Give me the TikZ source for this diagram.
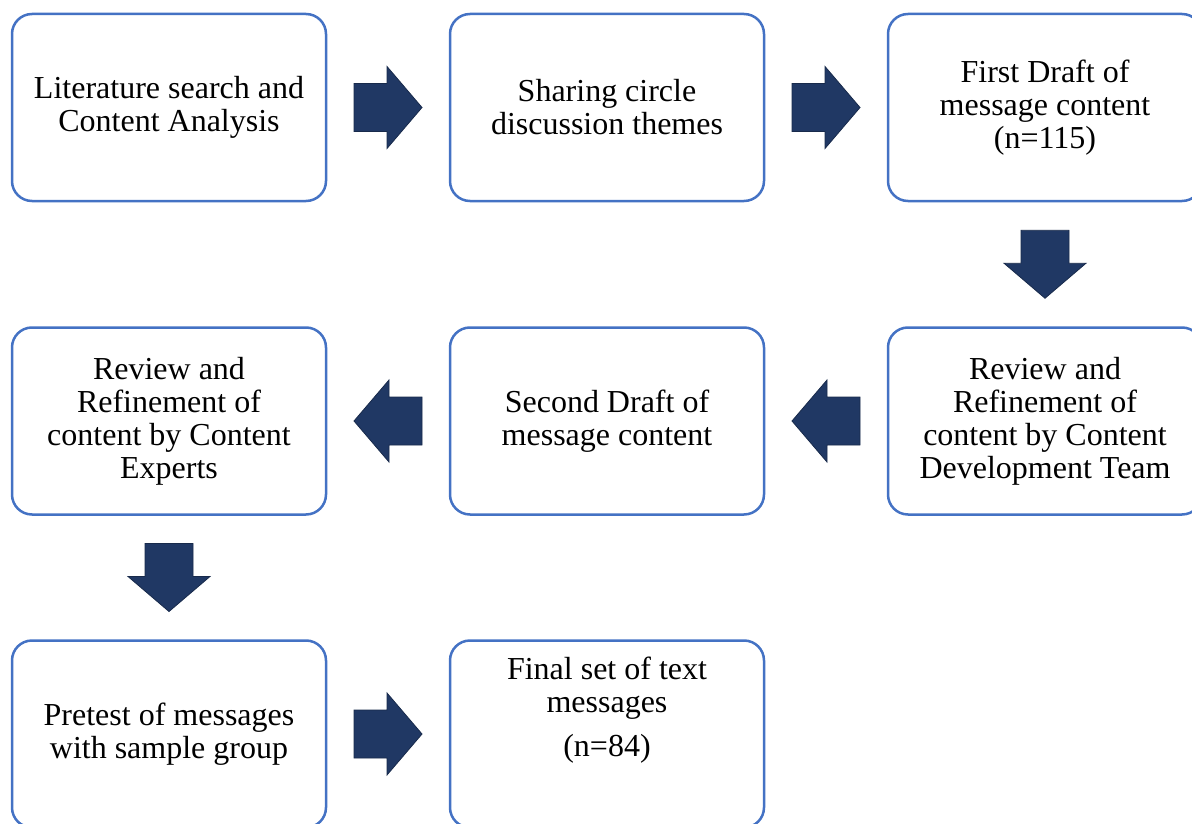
\documentclass[tikz,border=0pt]{standalone}
\usepackage{fontspec}
\setmainfont{Liberation Serif}
\usetikzlibrary{calc}
\definecolor{boxblue}{HTML}{4472C4}
\definecolor{navy}{HTML}{203864}

\tikzset{
  stage/.style={draw=boxblue, line width=2.5pt, rounded corners=20pt,
    minimum width=314pt, minimum height=187pt, fill=white, align=center,
    inner sep=0pt, font=\fontsize{32}{33}\selectfont},
  label/.style={align=center, inner sep=0pt, font=\fontsize{32}{33}\selectfont},
  blockarrow/.pic={
    \fill[navy, draw=navy!75!black, line width=0.8pt]
      (-34,-24) -- (-1,-24) -- (-1,-41) -- (34,0) -- (-1,41) -- (-1,24) -- (-34,24) -- cycle;
  }
}

\begin{document}
\begin{tikzpicture}[x=1pt, y=1pt]
\useasboundingbox (0,0) rectangle (1192,-824);
\clip (0,0) rectangle (1192,-824);

% stages
\node[stage] (lit)    at (169,-107.5)  {Literature search and\\Content Analysis};
\node[stage] (share)  at (607,-107.5)  {Sharing circle\\discussion themes};
\node[stage] (first)  at (1045,-107.5) {First Draft of\\message content\\(n=115)};
\node[stage] (revdev) at (1045,-421)   {Review and\\Refinement of\\content by Content\\Development Team};
\node[stage] (second) at (607,-421)    {Second Draft of\\message content};
\node[stage] (revexp) at (169,-421)    {Review and\\Refinement of\\content by Content\\Experts};
\node[stage] (pre)    at (169,-734)    {Pretest of messages\\with sample group};
\node[stage] (final)  at (607,-734)    {};
\node[label] (finaltxt) at ($(final.center)+(0,24)$) {Final set of text\\messages\\[11pt](n=84)};

% block arrows between stages
\pic at ($(lit.east)!0.5!(share.west)$) {blockarrow};
\pic at ($(share.east)!0.5!(first.west)$) {blockarrow};
\pic[rotate=-90] at ($(first.south)!0.5!(revdev.north)$) {blockarrow};
\pic[rotate=180] at ($(revdev.west)!0.5!(second.east)$) {blockarrow};
\pic[rotate=180] at ($(second.west)!0.5!(revexp.east)$) {blockarrow};
\pic[rotate=-90] at ($(revexp.south)!0.5!(pre.north)$) {blockarrow};
\pic at ($(pre.east)!0.5!(final.west)$) {blockarrow};
\end{tikzpicture}
\end{document}
